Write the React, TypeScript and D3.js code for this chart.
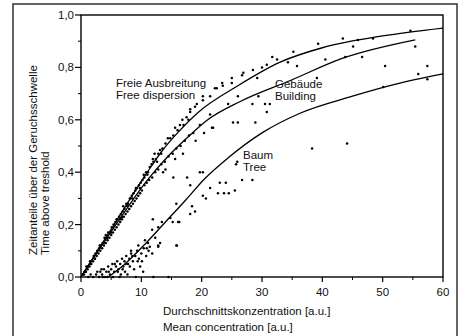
import React from "react";
import * as d3 from "d3";

// curve shapes (x = mean concentration, y = time fraction)
const freeCurve: [number, number][] = [
  [0, 0], [3, 0.11], [5.5, 0.2], [8.2, 0.3], [11, 0.4], [13.4, 0.48], [16, 0.55],
  [19.5, 0.63], [26, 0.73], [33, 0.82], [40, 0.875], [50, 0.92], [60, 0.95],
];
const buildingCurve: [number, number][] = [
  [0, 0], [5.5, 0.19], [11, 0.37], [14.4, 0.46], [18, 0.54], [21, 0.6], [26.4, 0.67],
  [34.7, 0.75], [43.4, 0.835], [55.4, 0.905],
];
const treeCurve: [number, number][] = [
  [4.5, 0], [7.3, 0.05], [10.8, 0.13], [14, 0.21], [17.4, 0.295], [20.5, 0.375], [24.4, 0.455],
  [30, 0.55], [36.3, 0.625], [45, 0.69], [52, 0.735], [60, 0.775],
];

const freePoints: [number, number][] = [
  [0.3, 0.01], [0.6, 0.02], [0.9, 0.04], [1.2, 0.04], [1.5, 0.06], [1.8, 0.06], [2.1, 0.08],
  [2.4, 0.09], [2.7, 0.1], [3.0, 0.11], [3.3, 0.12], [3.6, 0.13], [3.9, 0.15], [4.2, 0.15],
  [4.5, 0.17], [4.8, 0.17], [5.1, 0.19], [5.4, 0.2], [5.7, 0.21], [6.0, 0.22], [6.3, 0.23],
  [6.6, 0.24], [6.9, 0.25], [7.2, 0.26], [7.5, 0.28], [7.8, 0.28], [8.1, 0.3], [8.4, 0.31],
  [8.7, 0.32], [9.0, 0.33], [9.3, 0.34], [9.6, 0.35], [9.9, 0.36], [10.2, 0.37], [10.5, 0.38],
  [10.8, 0.4], [11.1, 0.4], [11.4, 0.42], [11.7, 0.43], [12.0, 0.44], [12.4, 0.45], [12.8, 0.47],
  [13.1, 0.485], [13.5, 0.49], [14.0, 0.51], [14.8, 0.53], [15.3, 0.54], [16.0, 0.56], [16.4, 0.58],
  [17.0, 0.58], [17.5, 0.61], [18.1, 0.63], [18.1, 0.64], [18.9, 0.65], [19.2, 0.66], [20.2, 0.675],
  [20.2, 0.69], [21.4, 0.69], [22.2, 0.72], [22.5, 0.72], [23.4, 0.74], [23.5, 0.73], [25.0, 0.74],
  [25.0, 0.76], [26.7, 0.77], [26.9, 0.78], [28.5, 0.79], [29.2, 0.76], [30.0, 0.8], [30.8, 0.81],
  [31.7, 0.84], [32.5, 0.83], [34.3, 0.82], [35.2, 0.86], [39.3, 0.89], [43.4, 0.91], [45.1, 0.88],
  [45.9, 0.905], [48.4, 0.91], [54.6, 0.94],
  [0.8, 0.02], [1.6, 0.05], [2.3, 0.07], [3.1, 0.12], [3.8, 0.13], [4.4, 0.15], [5.0, 0.17],
  [5.9, 0.22], [6.5, 0.22], [7.0, 0.27], [7.7, 0.27], [8.5, 0.3], [9.1, 0.34], [9.8, 0.34],
  [10.4, 0.39], [11.0, 0.39], [11.9, 0.45], [12.6, 0.44], [13.3, 0.47], [6.8, 0.23], [4.1, 0.16],
  [12.2, 0.47], [14.4, 0.53], [15.6, 0.57], [16.8, 0.6], [17.8, 0.6],
];

const buildingPoints: [number, number][] = [
  [0.5, 0.01], [0.8, 0.02], [1.1, 0.03], [1.4, 0.04], [1.7, 0.05], [2.0, 0.06], [2.3, 0.07],
  [2.6, 0.08], [2.9, 0.09], [3.2, 0.1], [3.5, 0.11], [3.8, 0.12], [4.1, 0.13], [4.4, 0.14],
  [4.7, 0.15], [5.0, 0.16], [5.3, 0.17], [5.6, 0.18], [5.9, 0.19], [6.2, 0.2], [6.5, 0.21],
  [6.8, 0.22], [7.1, 0.23], [7.4, 0.24], [7.7, 0.25], [8.0, 0.26], [8.3, 0.27], [8.6, 0.28],
  [8.9, 0.29], [9.2, 0.3], [9.5, 0.31], [9.8, 0.32], [10.1, 0.33], [10.5, 0.35], [10.9, 0.36],
  [11.3, 0.37], [11.8, 0.38], [12.3, 0.4], [12.8, 0.41], [13.3, 0.43], [13.9, 0.44], [14.5, 0.46],
  [15.2, 0.47], [15.8, 0.49], [16.5, 0.5], [17.2, 0.52], [17.9, 0.54], [18.6, 0.55], [19.7, 0.58],
  [21.4, 0.62], [21.9, 0.57], [24.4, 0.66], [25.2, 0.59], [26.0, 0.69], [26.0, 0.59], [28.4, 0.66],
  [28.9, 0.59], [29.4, 0.69], [30.5, 0.66], [30.8, 0.63], [31.3, 0.66], [35.8, 0.805], [39.1, 0.76],
  [40.5, 0.83], [43.8, 0.84], [46.6, 0.84], [50.4, 0.805], [55.4, 0.88],
  [14.0, 0.41], [15.6, 0.45], [16.9, 0.47], [19.0, 0.52], [20.4, 0.55],
];

const treePoints: [number, number][] = [
  [2.0, 0.0], [2.5, 0.01], [3.0, 0.0], [3.2, 0.02], [3.5, 0.01], [3.6, 0.0], [3.8, 0.03],
  [4.0, 0.0], [4.2, 0.02], [4.5, 0.04], [4.8, 0.01], [5.0, 0.03], [5.2, 0.05], [5.3, 0.0],
  [5.5, 0.02], [5.8, 0.04], [6.0, 0.06], [6.2, 0.03], [6.5, 0.05], [6.6, 0.01], [6.8, 0.07],
  [7.0, 0.04], [7.2, 0.06], [7.3, 0.02], [7.5, 0.08], [7.8, 0.05], [8.0, 0.07], [8.3, 0.09],
  [8.3, 0.1], [8.6, 0.06], [8.8, 0.03], [9.0, 0.08], [9.3, 0.1], [9.5, 0.12], [9.6, 0.07],
  [9.8, 0.04], [10.0, 0.09], [10.3, 0.02], [10.4, 0.11], [10.6, 0.14], [10.8, 0.08], [11.1, 0.13],
  [11.2, 0.1], [11.4, 0.115], [11.8, 0.09], [11.8, 0.18], [11.9, 0.22], [12.0, 0.0], [12.3, 0.15],
  [12.8, 0.115], [12.8, 0.19], [12.8, 0.12], [13.1, 0.13], [13.4, 0.21], [14.5, 0.0], [14.8, 0.225],
  [15.2, 0.21], [15.8, 0.12], [15.8, 0.28], [15.9, 0.12], [16.1, 0.21], [16.3, 0.21], [18.1, 0.24],
  [18.1, 0.35], [18.4, 0.27], [18.9, 0.25], [19.7, 0.4], [20.2, 0.31], [20.2, 0.4], [20.7, 0.3],
  [21.4, 0.34], [21.7, 0.57], [22.7, 0.32], [23.0, 0.36], [23.7, 0.32], [24.0, 0.36], [24.5, 0.32],
  [25.5, 0.33], [25.7, 0.43], [25.9, 0.44], [26.7, 0.37], [28.4, 0.37], [38.3, 0.49], [44.1, 0.51],
  [50.1, 0.725], [55.9, 0.775], [57.4, 0.755], [57.4, 0.805], [15.3, 0.38], [17.6, 0.38],
  [13.6, 0.4], [6.4, 0.0], [7.7, 0.01], [9.1, 0.0], [4.4, 0.0],
  [1.2, 0.0], [1.6, 0.01], [2.7, 0.02], [3.4, 0.03], [4.6, 0.02], [5.6, 0.05], [6.1, 0.02],
  [6.9, 0.03], [7.4, 0.05], [8.1, 0.04], [8.5, 0.08], [9.4, 0.06], [10.1, 0.06], [10.9, 0.11],
];

const xMajor = [0, 10, 20, 30, 40, 50, 60];
const xMinor = [5, 15, 25, 35, 45, 55];
const yMajor = [0, 0.2, 0.4, 0.6, 0.8, 1.0];
const yMinor = [0.1, 0.3, 0.5, 0.7, 0.9];

const font = "'Liberation Sans', Arial, sans-serif";

export default function App() {
  const x = d3.scaleLinear().domain([0, 60]).range([81, 443]);
  const y = d3.scaleLinear().domain([0, 1]).range([277, 15]);
  const fmt = (v: number) => d3.format(".1f")(v).replace(".", ",");

  const ln = d3
    .line<[number, number]>()
    .x((d) => x(d[0]))
    .y((d) => y(d[1]))
    .curve(d3.curveMonotoneX);

  const allPoints = [...freePoints, ...buildingPoints, ...treePoints];

  return (
    <svg
      width={464}
      height={336}
      style={{ position: "absolute", left: 0, top: 0, background: "#fff" }}
      fontFamily={font}
      fill="#111"
    >
      {/* outer frame of the figure */}
      <rect x={13} y={4} width={444} height={340} fill="none" stroke="#333" strokeWidth={1.5} />

      {/* plot box */}
      <rect x={x(0)} y={y(1)} width={x(60) - x(0)} height={y(0) - y(1)} fill="none" stroke="#000" strokeWidth={1.4} />

      {xMajor.map((t) => (
        <g key={"xm" + t}>
          <line x1={x(t)} x2={x(t)} y1={y(0)} y2={y(0) + 5} stroke="#000" strokeWidth={1.2} />
          <text x={x(t)} y={296} fontSize={11.5} textAnchor="middle">{t}</text>
        </g>
      ))}
      {xMinor.map((t) => (
        <line key={"xn" + t} x1={x(t)} x2={x(t)} y1={y(0)} y2={y(0) + 3} stroke="#000" strokeWidth={1} />
      ))}
      {yMajor.map((t) => (
        <g key={"ym" + t}>
          <line x1={x(0) - 6} x2={x(0)} y1={y(t)} y2={y(t)} stroke="#000" strokeWidth={1.2} />
          <text x={74} y={y(t) + 4} fontSize={11.5} textAnchor="end">{fmt(t)}</text>
        </g>
      ))}
      {yMinor.map((t) => (
        <line key={"yn" + t} x1={x(0) - 3} x2={x(0)} y1={y(t)} y2={y(t)} stroke="#000" strokeWidth={1} />
      ))}

      {/* scatter */}
      {allPoints.map((p, i) => (
        <circle key={i} cx={x(p[0])} cy={y(p[1])} r={1.25} fill="#000" />
      ))}

      {/* fitted curves */}
      {[freeCurve, buildingCurve, treeCurve].map((c, i) => (
        <path key={i} d={ln(c) || ""} fill="none" stroke="#000" strokeWidth={1.3} />
      ))}

      {/* curve labels */}
      <text x={116} y={87} fontSize={11.5}>Freie Ausbreitung</text>
      <text x={116} y={99} fontSize={11.5}>Free dispersion</text>
      <text x={275} y={88} fontSize={11.5}>Gebäude</text>
      <text x={275} y={100} fontSize={11.5}>Building</text>
      <text x={243} y={159} fontSize={11.5}>Baum</text>
      <text x={243} y={171} fontSize={11.5}>Tree</text>

      {/* axis titles */}
      <text x={163} y={315} fontSize={11.5}>Durchschnittskonzentration [a.u.]</text>
      <text x={163} y={331} fontSize={11.5}>Mean concentration [a.u.]</text>
      <text transform="translate(37,255) rotate(-90)" fontSize={11.5}>Zeitanteile über der Geruchsschwelle</text>
      <text transform="translate(49,255) rotate(-90)" fontSize={11.5}>Time above treshold</text>
    </svg>
  );
}
